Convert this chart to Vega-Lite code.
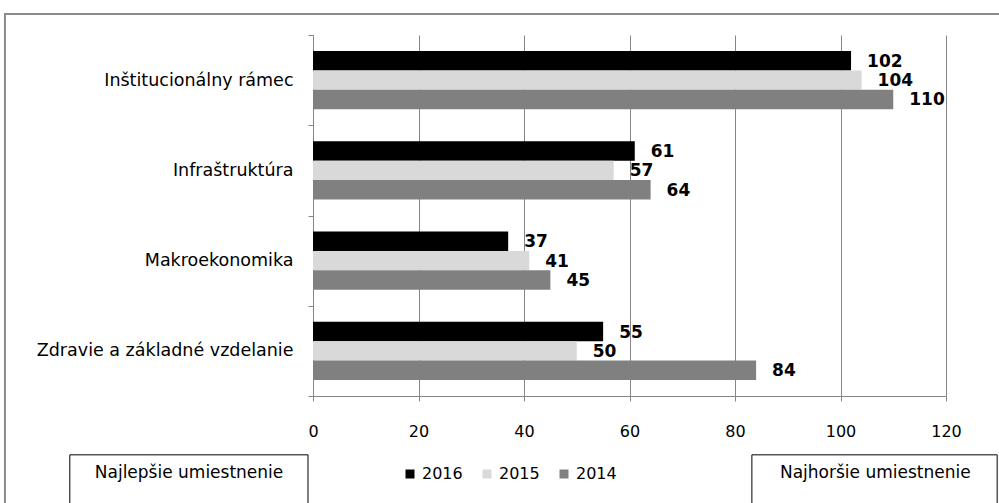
{
  "$schema": "https://vega.github.io/schema/vega-lite/v6.json",
  "width": 633,
  "height": 361,
  "autosize": {"type": "none"},
  "padding": {"left": 313, "top": 35, "right": 53, "bottom": 107},
  "background": "white",
  "config": {
    "view": {"stroke": null},
    "font": "DejaVu Sans",
    "axis": {"labelColor": "#000000", "labelFont": "DejaVu Sans"}
  },
  "data": {
    "values": [
      {"kat": "Inštitucionálny rámec", "rok": "2016", "hodnota": 102},
      {"kat": "Inštitucionálny rámec", "rok": "2015", "hodnota": 104},
      {"kat": "Inštitucionálny rámec", "rok": "2014", "hodnota": 110},
      {"kat": "Infraštruktúra", "rok": "2016", "hodnota": 61},
      {"kat": "Infraštruktúra", "rok": "2015", "hodnota": 57},
      {"kat": "Infraštruktúra", "rok": "2014", "hodnota": 64},
      {"kat": "Makroekonomika", "rok": "2016", "hodnota": 37},
      {"kat": "Makroekonomika", "rok": "2015", "hodnota": 41},
      {"kat": "Makroekonomika", "rok": "2014", "hodnota": 45},
      {"kat": "Zdravie a základné vzdelanie", "rok": "2016", "hodnota": 55},
      {"kat": "Zdravie a základné vzdelanie", "rok": "2015", "hodnota": 50},
      {"kat": "Zdravie a základné vzdelanie", "rok": "2014", "hodnota": 84}
    ]
  },
  "layer": [
    {
      "data": {"values": [{"popis": "Najlepšie umiestnenie"}]},
      "layer": [
        {
          "mark": {"type": "rect", "fill": null, "stroke": "#8c8c8c", "strokeWidth": 2},
          "encoding": {
            "x": {"datum": -58.4, "type": "quantitative"},
            "x2": {"datum": 132.5},
            "y": {"datum": 1.058, "type": "quantitative", "scale": {"domain": [0, 1], "nice": false, "zero": false}, "axis": null},
            "y2": {"datum": -0.4}
          }
        },
        {
          "mark": {"type": "rect", "fill": "white", "stroke": "#000000", "strokeWidth": 1},
          "encoding": {
            "x": {"datum": -46.1, "type": "quantitative"},
            "x2": {"datum": -0.95},
            "y": {"datum": -0.163, "type": "quantitative", "scale": {"domain": [0, 1], "nice": false, "zero": false}, "axis": null},
            "y2": {"datum": -0.4}
          }
        },
        {
          "mark": {"type": "rect", "fill": "white", "stroke": "#000000", "strokeWidth": 1},
          "encoding": {
            "x": {"datum": 83.2, "type": "quantitative"},
            "x2": {"datum": 129.7},
            "y": {"datum": -0.163, "type": "quantitative", "scale": {"domain": [0, 1], "nice": false, "zero": false}, "axis": null},
            "y2": {"datum": -0.4}
          }
        },
        {
          "mark": {"type": "text", "fontSize": 17, "align": "center", "baseline": "middle", "color": "#000000"},
          "encoding": {
            "x": {"datum": -23.5, "type": "quantitative"},
            "y": {"datum": -0.213, "type": "quantitative", "scale": {"domain": [0, 1], "nice": false, "zero": false}, "axis": null},
            "text": {"value": "Najlepšie umiestnenie"}
          }
        },
        {
          "mark": {"type": "text", "fontSize": 17, "align": "center", "baseline": "middle", "color": "#000000"},
          "encoding": {
            "x": {"datum": 106.6, "type": "quantitative"},
            "y": {"datum": -0.213, "type": "quantitative", "scale": {"domain": [0, 1], "nice": false, "zero": false}, "axis": null},
            "text": {"value": "Najhoršie umiestnenie"}
          }
        }
      ]
    },
    {
      "encoding": {
        "y": {
          "field": "kat",
          "type": "nominal",
          "sort": null,
          "title": null,
          "scale": {"paddingInner": 0, "paddingOuter": 0},
          "axis": {
            "tickBand": "extent",
            "tickSize": 5,
            "tickColor": "#868686",
            "domainColor": "#868686",
            "labelFontSize": 17.5,
            "labelPadding": 15,
            "labelLimit": 400,
            "grid": false
          }
        },
        "x": {
          "field": "hodnota",
          "type": "quantitative",
          "title": null,
          "scale": {"domain": [0, 120], "nice": false, "zero": false},
          "axis": {
            "values": [0, 20, 40, 60, 80, 100, 120],
            "grid": true,
            "gridColor": "#868686",
            "tickColor": "#868686",
            "domainColor": "#868686",
            "tickSize": 5,
            "labelFontSize": 16,
            "labelPadding": 22,
            "labelFlush": false
          }
        },
        "yOffset": {
          "field": "rok",
          "type": "nominal",
          "sort": ["2016", "2015", "2014"],
          "scale": {"paddingInner": 0, "paddingOuter": 0.83}
        }
      },
      "layer": [
        {
          "mark": {"type": "bar"},
          "encoding": {
            "color": {
              "field": "rok",
              "type": "nominal",
              "sort": ["2016", "2015", "2014"],
              "scale": {"domain": ["2016", "2015", "2014"], "range": ["#000000", "#d9d9d9", "#808080"]},
              "legend": {
                "title": null,
                "orient": "none",
                "legendX": 89,
                "legendY": 431,
                "direction": "horizontal",
                "symbolType": "square",
                "symbolSize": 81,
                "symbolStrokeWidth": 0,
                "symbolOpacity": 1,
                "labelFontSize": 16,
                "labelColor": "#000000",
                "labelOffset": 4,
                "columnPadding": 16
              }
            }
          }
        },
        {
          "mark": {"type": "text", "align": "left", "baseline": "middle", "dx": 16, "dy": 1, "fontSize": 17, "fontWeight": "bold", "color": "#000000"},
          "encoding": {
            "text": {"field": "hodnota", "type": "quantitative"}
          }
        }
      ]
    }
  ],
  "resolve": {"scale": {"y": "independent"}, "axis": {"y": "independent"}}
}
